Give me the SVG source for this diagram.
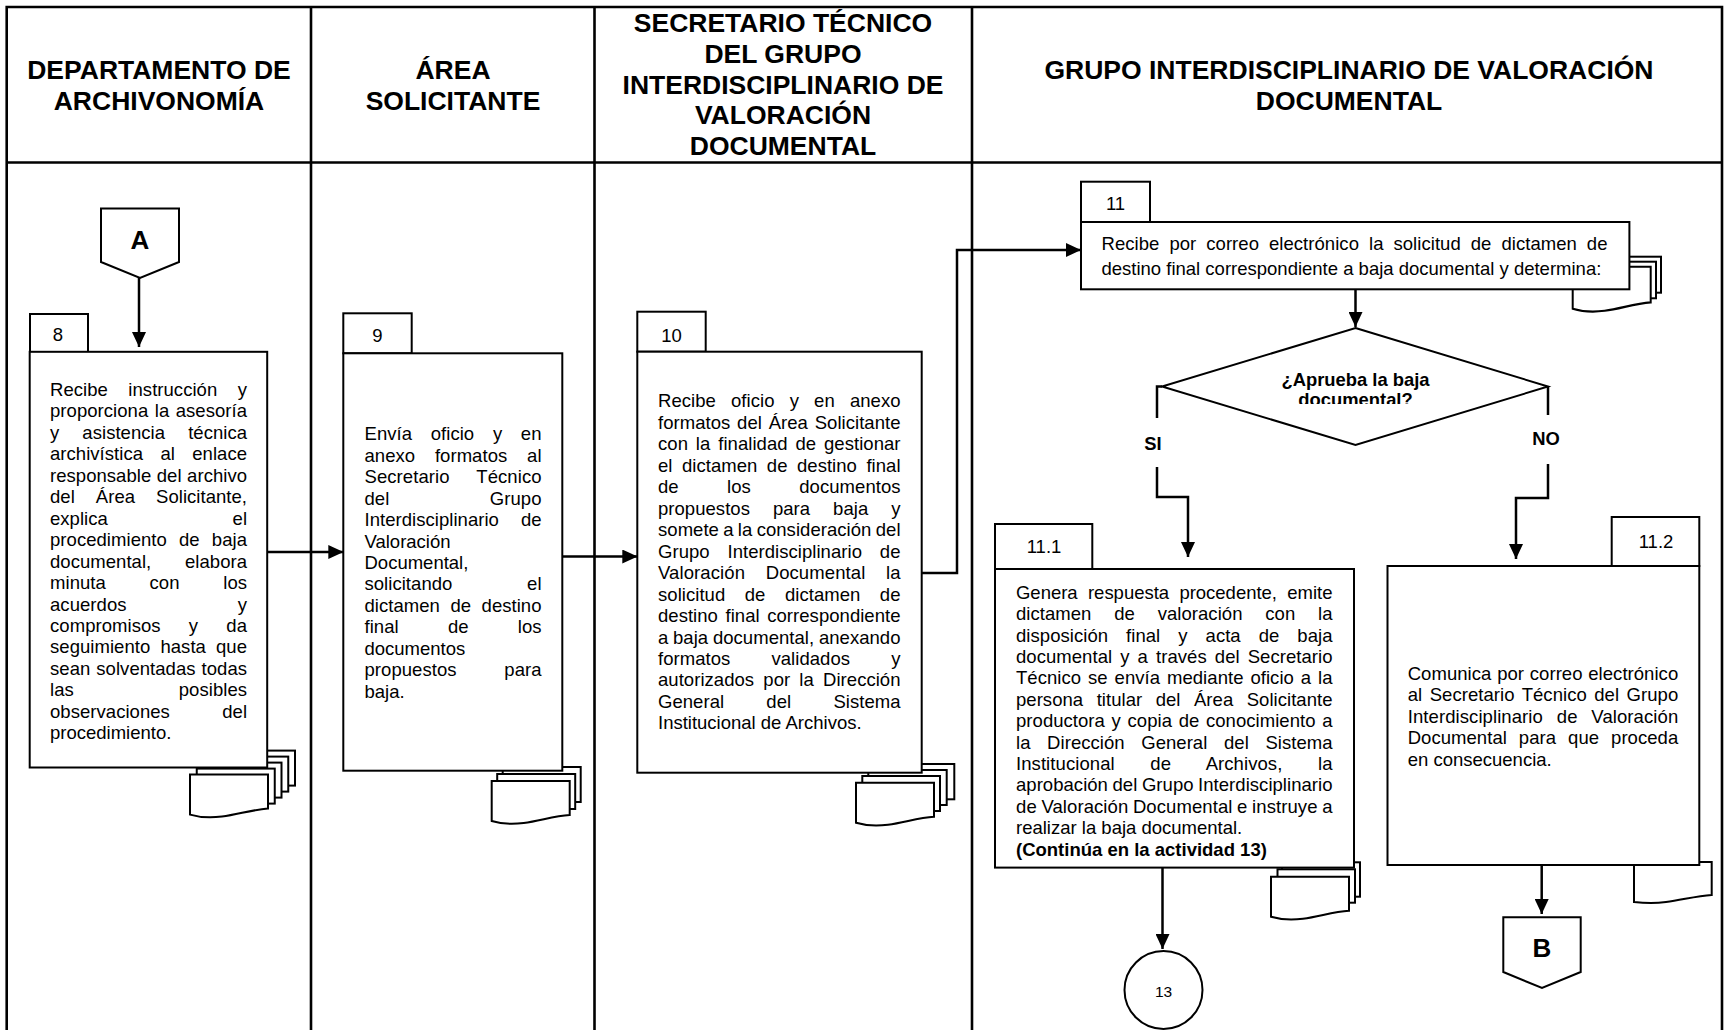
<svg xmlns="http://www.w3.org/2000/svg" width="1724" height="1030" viewBox="0 0 1724 1030">
<style>
  .grid{fill:none;stroke:#000;stroke-width:2.6}
  .box{fill:#fff;stroke:#000;stroke-width:2}
  .doc{fill:#fff;stroke:#000;stroke-width:2}
  .hd{font-family:"Liberation Sans",Arial,sans-serif;font-weight:bold;font-size:26.5px;text-anchor:middle;fill:#000}
  .tx{font-family:"Liberation Sans",Arial,sans-serif;font-size:18.5px;fill:#000}
  .num{font-family:"Liberation Sans",Arial,sans-serif;font-size:18.5px;text-anchor:middle;fill:#000}
  .lbl{font-family:"Liberation Sans",Arial,sans-serif;font-weight:bold;font-size:18.4px;text-anchor:middle;fill:#000}
  .big{font-family:"Liberation Sans",Arial,sans-serif;font-weight:bold;font-size:26px;text-anchor:middle;fill:#000}
  .b{font-weight:bold}
  .conn{fill:none;stroke:#000;stroke-width:2.5}
</style>
<defs>
  <marker id="arr" markerUnits="userSpaceOnUse" markerWidth="15" markerHeight="14" refX="15" refY="7" orient="auto">
    <path d="M0,0 L15,7 L0,14 Z" fill="#000"/>
  </marker>
  <path id="docFront" d="M0,0 H78 V34 C62,35 48,40 32,42 C20,43.5 10,43 0,40 Z"/>
  <clipPath id="qClip"><rect x="1220" y="360" width="280" height="44"/></clipPath>
</defs>

<!-- swimlane table -->
<g id="lanes">
  <path class="grid" d="M6.7,1030 V7 H1722 V1030 M6.7,162.5 H1722 M311,7 V1030 M594.5,7 V1030 M972,7 V1030"/>
  <text class="hd" x="159" y="78.5">DEPARTAMENTO DE</text>
  <text class="hd" x="159" y="109.5">ARCHIVONOMÍA</text>
  <text class="hd" x="453" y="78.5">ÁREA</text>
  <text class="hd" x="453" y="109.5">SOLICITANTE</text>
  <text class="hd" x="783" y="32.2">SECRETARIO TÉCNICO</text>
  <text class="hd" x="783" y="62.9">DEL GRUPO</text>
  <text class="hd" x="783" y="93.8">INTERDISCIPLINARIO DE</text>
  <text class="hd" x="783" y="124.2">VALORACIÓN</text>
  <text class="hd" x="783" y="154.9">DOCUMENTAL</text>
  <text class="hd" x="1349" y="78.5">GRUPO INTERDISCIPLINARIO DE VALORACIÓN</text>
  <text class="hd" x="1349" y="109.5">DOCUMENTAL</text>
</g>

<!-- off-page connector A -->
<g id="connA">
  <polygon class="box" points="101,208.5 179,208.5 179,262 140,278 101,262"/>
  <text class="big" x="140" y="248.5">A</text>
</g>

<!-- activity 8 -->
<g id="act8">
  <rect class="doc" x="217" y="750.6" width="78" height="35"/>
  <rect class="doc" x="210.25" y="756.6" width="78" height="35"/>
  <rect class="doc" x="203.5" y="762.6" width="78" height="35"/>
  <rect class="doc" x="196.75" y="768.6" width="78" height="35"/>
  <use href="#docFront" class="doc" x="190" y="774.6"/>
  <rect class="box" x="30" y="314" width="58" height="38"/>
  <text class="num" x="58" y="340.7">8</text>
  <rect class="box" x="29.7" y="351.8" width="237.5" height="415.7"/>
  <g class="tx">
    <text x="50" y="396" textLength="197" lengthAdjust="spacing" word-spacing="15.3">Recibe instrucción y</text>
    <text x="50" y="417.45" textLength="197" lengthAdjust="spacing" word-spacing="1.3">proporciona la asesoría</text>
    <text x="50" y="438.9" textLength="197" lengthAdjust="spacing" word-spacing="17.9">y asistencia técnica</text>
    <text x="50" y="460.35" textLength="197" lengthAdjust="spacing" word-spacing="12.2">archivística al enlace</text>
    <text x="50" y="481.8" textLength="197" lengthAdjust="spacing" word-spacing="0.3">responsable del archivo</text>
    <text x="50" y="503.25" textLength="197" lengthAdjust="spacing" word-spacing="15.8">del Área Solicitante,</text>
    <text x="50" y="524.7" textLength="197" lengthAdjust="spacing" word-spacing="119.5">explica el</text>
    <text x="50" y="546.15" textLength="197" lengthAdjust="spacing" word-spacing="7">procedimiento de baja</text>
    <text x="50" y="567.6" textLength="197" lengthAdjust="spacing" word-spacing="28.5">documental, elabora</text>
    <text x="50" y="589.05" textLength="197" lengthAdjust="spacing" word-spacing="38.5">minuta con los</text>
    <text x="50" y="610.5" textLength="197" lengthAdjust="spacing" word-spacing="106">acuerdos y</text>
    <text x="50" y="631.95" textLength="197" lengthAdjust="spacing" word-spacing="23">compromisos y da</text>
    <text x="50" y="653.4" textLength="197" lengthAdjust="spacing" word-spacing="4.9">seguimiento hasta que</text>
    <text x="50" y="674.85" textLength="197" lengthAdjust="spacing" word-spacing="0.8">sean solventadas todas</text>
    <text x="50" y="696.3" textLength="197" lengthAdjust="spacing" word-spacing="99.8">las posibles</text>
    <text x="50" y="717.75" textLength="197" lengthAdjust="spacing" word-spacing="47.1">observaciones del</text>
    <text x="50" y="739.2">procedimiento.</text>
  </g>
</g>

<!-- activity 9 -->
<g id="act9">
  <rect class="doc" x="502.7" y="767" width="78" height="35"/>
  <rect class="doc" x="497.2" y="774" width="78" height="35"/>
  <use href="#docFront" class="doc" x="491.7" y="781"/>
  <rect class="box" x="343.3" y="313.3" width="68.4" height="40"/>
  <text class="num" x="377.5" y="341.7">9</text>
  <rect class="box" x="343.3" y="353.3" width="219" height="417.4"/>
  <g class="tx">
    <text x="364.5" y="440.3" textLength="177" lengthAdjust="spacing" word-spacing="13.5">Envía oficio y en</text>
    <text x="364.5" y="461.75" textLength="177" lengthAdjust="spacing" word-spacing="14.6">anexo formatos al</text>
    <text x="364.5" y="483.2" textLength="177" lengthAdjust="spacing" word-spacing="21.9">Secretario Técnico</text>
    <text x="364.5" y="504.65" textLength="177" lengthAdjust="spacing" word-spacing="95.3">del Grupo</text>
    <text x="364.5" y="526.1" textLength="177" lengthAdjust="spacing" word-spacing="16.8">Interdisciplinario de</text>
    <text x="364.5" y="547.55">Valoración</text>
    <text x="364.5" y="569">Documental,</text>
    <text x="364.5" y="590.45" textLength="177" lengthAdjust="spacing" word-spacing="69.5">solicitando el</text>
    <text x="364.5" y="611.9" textLength="177" lengthAdjust="spacing" word-spacing="5.3">dictamen de destino</text>
    <text x="364.5" y="633.35" textLength="177" lengthAdjust="spacing" word-spacing="44">final de los</text>
    <text x="364.5" y="654.8">documentos</text>
    <text x="364.5" y="676.25" textLength="177" lengthAdjust="spacing" word-spacing="42.6">propuestos para</text>
    <text x="364.5" y="697.7">baja.</text>
  </g>
</g>

<!-- activity 10 -->
<g id="act10">
  <rect class="doc" x="874.3" y="764" width="80" height="35.3"/>
  <rect class="doc" x="868.3" y="770" width="78.4" height="35"/>
  <rect class="doc" x="862.3" y="776" width="77.7" height="35"/>
  <use href="#docFront" class="doc" x="856" y="782.7"/>
  <rect class="box" x="637.3" y="311.7" width="68.4" height="40"/>
  <text class="num" x="671.5" y="341.7">10</text>
  <rect class="box" x="637.3" y="351.7" width="284.4" height="421"/>
  <g class="tx">
    <text x="658" y="407.3" textLength="242.5" lengthAdjust="spacing" word-spacing="10">Recibe oficio y en anexo</text>
    <text x="658" y="428.8" textLength="242.5" lengthAdjust="spacing" word-spacing="1.6">formatos del Área Solicitante</text>
    <text x="658" y="450.2" textLength="242.5" lengthAdjust="spacing" word-spacing="2.7">con la finalidad de gestionar</text>
    <text x="658" y="471.7" textLength="242.5" lengthAdjust="spacing" word-spacing="4.3">el dictamen de destino final</text>
    <text x="658" y="493.2" textLength="242.5" lengthAdjust="spacing" word-spacing="43.2">de los documentos</text>
    <text x="658" y="514.6" textLength="242.5" lengthAdjust="spacing" word-spacing="17.8">propuestos para baja y</text>
    <text x="658" y="536.1" textLength="242.5" lengthAdjust="spacing" word-spacing="-0.9">somete a la consideración del</text>
    <text x="658" y="557.6" textLength="242.5" lengthAdjust="spacing" word-spacing="12.7">Grupo Interdisciplinario de</text>
    <text x="658" y="579.1" textLength="242.5" lengthAdjust="spacing" word-spacing="15.3">Valoración Documental la</text>
    <text x="658" y="600.5" textLength="242.5" lengthAdjust="spacing" word-spacing="14.3">solicitud de dictamen de</text>
    <text x="658" y="622" textLength="242.5" lengthAdjust="spacing" word-spacing="2.4">destino final correspondiente</text>
    <text x="658" y="643.5" textLength="242.5" lengthAdjust="spacing" word-spacing="-0.5">a baja documental, anexando</text>
    <text x="658" y="664.9" textLength="242.5" lengthAdjust="spacing" word-spacing="36">formatos validados y</text>
    <text x="658" y="686.4" textLength="242.5" lengthAdjust="spacing" word-spacing="4">autorizados por la Dirección</text>
    <text x="658" y="707.9" textLength="242.5" lengthAdjust="spacing" word-spacing="37">General del Sistema</text>
    <text x="658" y="729.4">Institucional de Archivos.</text>
  </g>
</g>

<!-- activity 11 -->
<g id="act11">
  <rect class="doc" x="1583" y="256.7" width="78" height="36"/>
  <rect class="doc" x="1578" y="261.7" width="78" height="36.6"/>
  <use href="#docFront" class="doc" transform="translate(1572.7,266.7) scale(1,1.05)"/>
  <rect class="box" x="1081" y="181.7" width="69" height="40.3"/>
  <text class="num" x="1115.5" y="210">11</text>
  <rect class="box" x="1081" y="222" width="548.4" height="67.3"/>
  <g class="tx">
    <text x="1101.5" y="250.3" textLength="506" lengthAdjust="spacing" word-spacing="4.8">Recibe por correo electrónico la solicitud de dictamen de</text>
    <text x="1101.5" y="274.6">destino final correspondiente a baja documental y determina:</text>
  </g>
</g>

<!-- decision -->
<g id="decision">
  <polygon class="box" points="1355.5,328 1548,386.5 1355.5,445 1162,386.5"/>
  <g clip-path="url(#qClip)">
    <text class="lbl" x="1355.5" y="386">¿Aprueba la baja</text>
    <text class="lbl" x="1355.5" y="405.5">documental?</text>
  </g>
  <text class="lbl" x="1153" y="449.5">SI</text>
  <text class="lbl" x="1546" y="445">NO</text>
</g>

<!-- activity 11.1 -->
<g id="act11_1">
  <rect class="doc" x="1282" y="862.3" width="78" height="34.4"/>
  <rect class="doc" x="1277.5" y="869.3" width="77.5" height="33.4"/>
  <use href="#docFront" class="doc" x="1271" y="876.7"/>
  <rect class="box" x="995" y="524" width="97.3" height="45"/>
  <text class="num" x="1044" y="553">11.1</text>
  <rect class="box" x="995" y="569" width="359" height="298.6"/>
  <g class="tx">
    <text x="1016" y="598.8" textLength="316.5" lengthAdjust="spacing" word-spacing="5.2">Genera respuesta procedente, emite</text>
    <text x="1016" y="620.2" textLength="316.5" lengthAdjust="spacing" word-spacing="17.6">dictamen de valoración con la</text>
    <text x="1016" y="641.6" textLength="316.5" lengthAdjust="spacing" word-spacing="12.8">disposición final y acta de baja</text>
    <text x="1016" y="663" textLength="316.5" lengthAdjust="spacing" word-spacing="2.9">documental y a través del Secretario</text>
    <text x="1016" y="684.4" textLength="316.5" lengthAdjust="spacing" word-spacing="1.7">Técnico se envía mediante oficio a la</text>
    <text x="1016" y="705.8" textLength="316.5" lengthAdjust="spacing" word-spacing="8.3">persona titular del Área Solicitante</text>
    <text x="1016" y="727.2" textLength="316.5" lengthAdjust="spacing" word-spacing="1.5">productora y copia de conocimiento a</text>
    <text x="1016" y="748.6" textLength="316.5" lengthAdjust="spacing" word-spacing="11.4">la Dirección General del Sistema</text>
    <text x="1016" y="770" textLength="316.5" lengthAdjust="spacing" word-spacing="30.4">Institucional de Archivos, la</text>
    <text x="1016" y="791.4" textLength="316.5" lengthAdjust="spacing" word-spacing="-0.6">aprobación del Grupo Interdisciplinario</text>
    <text x="1016" y="812.8" textLength="316.5" lengthAdjust="spacing" word-spacing="-0.6">de Valoración Documental e instruye a</text>
    <text x="1016" y="834.2">realizar la baja documental.</text>
    <text class="b" x="1016" y="855.6">(Continúa en la actividad 13)</text>
  </g>
</g>

<!-- activity 11.2 -->
<g id="act11_2">
  <path class="doc" d="M1634,862 H1711.7 V895 C1696,896 1682,900 1666,902 C1654,903.5 1644,903 1634,902 Z"/>
  <rect class="box" x="1611.7" y="517" width="87.6" height="49"/>
  <text class="num" x="1656" y="548.3">11.2</text>
  <rect class="box" x="1387.5" y="566" width="311.8" height="299"/>
  <g class="tx">
    <text x="1407.7" y="679.5" textLength="270.5" lengthAdjust="spacing" word-spacing="0.6">Comunica por correo electrónico</text>
    <text x="1407.7" y="701" textLength="270.5" lengthAdjust="spacing" word-spacing="2.2">al Secretario Técnico del Grupo</text>
    <text x="1407.7" y="722.5" textLength="270.5" lengthAdjust="spacing" word-spacing="8.6">Interdisciplinario de Valoración</text>
    <text x="1407.7" y="744" textLength="270.5" lengthAdjust="spacing" word-spacing="6.8">Documental para que proceda</text>
    <text x="1407.7" y="765.5">en consecuencia.</text>
  </g>
</g>

<!-- on-page connector 13 -->
<g id="conn13">
  <circle class="box" cx="1163.5" cy="990" r="39"/>
  <text x="1163.5" y="997" font-family="Liberation Sans, Arial, sans-serif" font-size="15.5" text-anchor="middle">13</text>
</g>

<!-- off-page connector B -->
<g id="connB">
  <polygon class="box" points="1503.3,917.2 1580.7,917.2 1580.7,972 1542,988 1503.3,972"/>
  <text class="big" x="1542" y="957">B</text>
</g>

<!-- flow lines -->
<g id="connectors">
  <path class="conn" d="M139,278 V347" marker-end="url(#arr)"/>
  <path class="conn" d="M267.2,552 H343.3" marker-end="url(#arr)"/>
  <path class="conn" d="M562.3,556.5 H637.3" marker-end="url(#arr)"/>
  <path class="conn" d="M921.7,573 H957 V250 H1081" marker-end="url(#arr)"/>
  <path class="conn" d="M1355.5,289.3 V327" marker-end="url(#arr)"/>
  <path class="conn" d="M1162,386.5 H1157 V418"/>
  <path class="conn" d="M1157,467 V497 H1188 V557" marker-end="url(#arr)"/>
  <path class="conn" d="M1548,386.5 V415"/>
  <path class="conn" d="M1548,464 V498 H1516 V559" marker-end="url(#arr)"/>
  <path class="conn" d="M1162.5,867.6 V949" marker-end="url(#arr)"/>
  <path class="conn" d="M1541.7,865 V914" marker-end="url(#arr)"/>
</g>
</svg>
